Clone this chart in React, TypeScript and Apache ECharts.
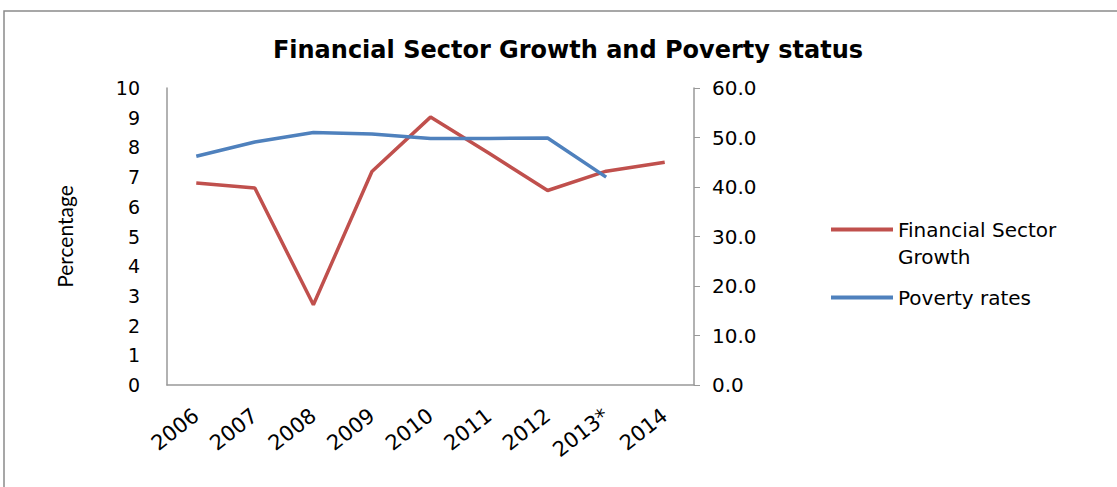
import React, { useEffect, useRef } from "react";
import * as echarts from "echarts";

const categories = ["2006", "2007", "2008", "2009", "2010", "2011", "2012", "2013*", "2014"];
const financialGrowth = [6.8, 6.63, 2.7, 7.19, 9.02, 7.8, 6.55, 7.2, 7.5];
const povertyRates = [46.2, 49.1, 51.0, 50.7, 49.8, 49.8, 49.9, 42.0, null];
const leftTicks = { min: 0, max: 10, interval: 1 };
const rightTicks = { min: 0, max: 60, interval: 10 };

export default function App() {
  const ref = useRef<HTMLDivElement>(null);
  useEffect(() => {
    const chart = echarts.init(ref.current!, null, { renderer: "svg" });
    const font = "'DejaVu Sans', sans-serif";
    chart.setOption({
      animation: false,
      backgroundColor: "#fff",
      title: {
        text: "Financial Sector Growth and Poverty status",
        left: 563,
        textAlign: "center",
        top: 33,
        textStyle: { fontFamily: font, fontSize: 24, fontWeight: "bold", color: "#000" },
      },
      graphic: [
        { type: "rect", shape: { x: 4, y: 11, width: 1130, height: 500 }, style: { fill: "none", stroke: "#8a8a8a", lineWidth: 1.5 }, silent: true },
      ],
      legend: {
        orient: "vertical",
        left: 826,
        top: 184,
        itemWidth: 62,
        itemHeight: 4,
        itemGap: 14,
        icon: "rect",
        data: ["Financial Sector Growth", "Poverty rates"],
        formatter: (n: string) => (n === "Financial Sector Growth" ? " \nFinancial Sector\nGrowth" : n),
        textStyle: { fontFamily: font, fontSize: 20, color: "#000", lineHeight: 27 },
      },
      grid: { left: 167, right: 423, top: 88, bottom: 102 },
      xAxis: {
        type: "category",
        data: categories,
        boundaryGap: true,
        axisLine: { lineStyle: { color: "#999", width: 1.5 } },
        axisTick: { show: false },
        axisLabel: { rotate: 38, fontFamily: font, fontSize: 21, color: "#000", margin: 28, interval: 0 },
      },
      yAxis: [
        {
          type: "value",
          ...leftTicks,
          name: "Percentage",
          nameLocation: "middle",
          nameGap: 92,
          nameTextStyle: { fontFamily: "Lato, sans-serif", fontSize: 21, color: "#000" },
          axisLine: { show: true, lineStyle: { color: "#999", width: 1.5 } },
          axisTick: { show: false },
          splitLine: { show: false },
          axisLabel: { fontFamily: font, fontSize: 19, color: "#000", margin: 27 },
        },
        {
          type: "value",
          position: "right",
          ...rightTicks,
          axisLine: { show: true, lineStyle: { color: "#999", width: 1.5 } },
          axisTick: { show: true, length: 6, lineStyle: { color: "#999" } },
          splitLine: { show: false },
          axisLabel: { fontFamily: font, fontSize: 20, color: "#000", margin: 18, formatter: (v: number) => v.toFixed(1) },
        },
      ],
      series: [
        {
          name: "Financial Sector Growth",
          type: "line",
          data: financialGrowth,
          yAxisIndex: 0,
          symbol: "none",
          lineStyle: { color: "#C0504D", width: 3.5 },
          itemStyle: { color: "#C0504D" },
        },
        {
          name: "Poverty rates",
          type: "line",
          data: povertyRates,
          yAxisIndex: 1,
          symbol: "none",
          lineStyle: { color: "#4F81BD", width: 3.5 },
          itemStyle: { color: "#4F81BD" },
        },
      ],
    });
    return () => chart.dispose();
  }, []);
  return <div ref={ref} style={{ width: 1117, height: 487, position: "absolute", left: 0, top: 0 }} />;
}
